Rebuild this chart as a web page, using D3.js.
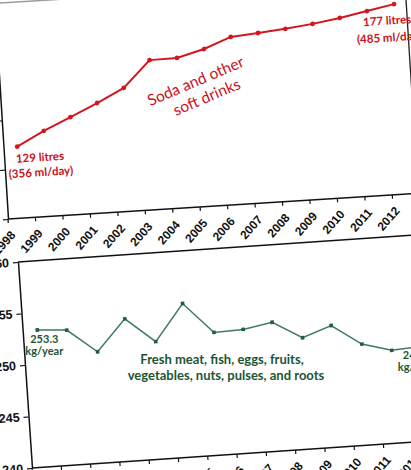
<!DOCTYPE html>
<html>
<head>
<meta charset="utf-8">
<script src="https://cdnjs.cloudflare.com/ajax/libs/d3/7.8.5/d3.min.js"></script>
<style>
  body { margin: 0; background: #fff; }
  svg { display: block; }
</style>
</head>
<body>
<div id="chart"></div>
<script>
//GLOBALS
width = 411;
height = 470;

// soda and other soft drinks, litres per person per year
var sodaYears = ["1998","1999","2000","2001","2002","2003","2004","2005","2006","2007","2008","2009","2010","2011","2012"];
var sodaLitres = [129, 134.7, 139.6, 144.6, 150.0, 160.6, 160.8, 163.7, 167.9, 168.8, 169.8, 171.1, 172.8, 174.9, 177];
var sodaTicks = [100, 120, 140, 160, 180];

// fresh meat, fish, eggs, fruits, vegetables, nuts, pulses, roots, kg per person per year
var freshYears = ["1999","2000","2001","2002","2003","2004","2005","2006","2007","2008","2009","2010","2011","2012"];
var freshKg = [253.3, 253.1, 250.8, 253.8, 251.4, 254.9, 251.9, 252.0, 252.5, 250.8, 251.8, 249.8, 249.0, 249.2];
var freshTicks = [240, 245, 250, 255, 260];

red = "#d4161f";
redText = "#c8121c";
green = "#3f7a5e";
greenText = "#1b5634";
axisFont = "'Liberation Sans', Arial, sans-serif";
noteFont = "Lato, 'Open Sans', sans-serif";

function xAxis(g, x, n) {
  // ticks sit on category boundaries, labels hang off the left boundary
  var bounds = d3.range(n + 1).map(function(i) { return x.range()[0] + i * x.step(); });
  g.append("line")
    .attr("x1", 0).attr("x2", x.range()[1])
    .attr("y1", 0).attr("y2", 0)
    .attr("stroke", "#111").attr("stroke-width", 1.5);
  g.selectAll(".xt")
    .data(bounds.slice(0, n))
    .join("line")
    .attr("x1", function(d) { return d; }).attr("x2", function(d) { return d; })
    .attr("y1", 0).attr("y2", 4)
    .attr("stroke", "#111").attr("stroke-width", 1.2);
  g.selectAll(".xl")
    .data(x.domain())
    .join("text")
    .attr("transform", function(d) { return "translate(" + (x(d) + 7) + ",17) rotate(-45)"; })
    .attr("text-anchor", "end")
    .attr("font-family", axisFont)
    .attr("font-weight", "bold")
    .attr("font-size", "12px")
    .attr("fill", "#111")
    .text(function(d) { return d; });
}

function yAxis(g, y, ticks) {
  var ax = g.append("g")
    .call(d3.axisLeft(y).tickValues(ticks).tickSize(5).tickSizeOuter(0).tickPadding(4));
  ax.select(".domain").attr("stroke", "#111").attr("stroke-width", 1.5);
  ax.selectAll(".tick line").attr("stroke", "#111").attr("stroke-width", 1.2);
  ax.selectAll(".tick text")
    .attr("font-family", axisFont)
    .attr("font-weight", "bold")
    .attr("font-size", "12.5px")
    .attr("fill", "#111");
}

function start() {
  svg = d3.select("#chart")
    .append("svg")
    .attr("width", width)
    .attr("height", height);

  svg.append("rect").attr("width", width).attr("height", height).attr("fill", "#fff");

  ////////// soda panel (scan is tilted) //////////
  top1 = svg.append("g").attr("transform", "translate(8,219) rotate(-3.6)");

  x1 = d3.scaleBand().domain(sodaYears).range([0, 412.5]);
  y1 = d3.scaleLinear().domain([100, 200]).range([0, -247]);

  // frame
  top1.append("line")
    .attr("x1", -20).attr("x2", 412.5)
    .attr("y1", -216).attr("y2", -216)
    .attr("stroke", "#9a9a9a").attr("stroke-width", 1.5);
  top1.append("line")
    .attr("x1", 411).attr("x2", 411)
    .attr("y1", 0).attr("y2", -216)
    .attr("stroke", "#222").attr("stroke-width", 1.3);

  yAxis(top1, y1, sodaTicks);
  xAxis(top1, x1, sodaYears.length);

  soda = sodaYears.map(function(d, i) { return {year: d, v: sodaLitres[i]}; });
  cx1 = function(d) { return x1(d.year) + x1.bandwidth() / 2; };

  top1.append("path")
    .datum(soda)
    .attr("fill", "none")
    .attr("stroke", red)
    .attr("stroke-width", 2)
    .attr("d", d3.line().x(cx1).y(function(d) { return y1(d.v); }));

  top1.selectAll(".dot")
    .data(soda)
    .join("circle")
    .attr("cx", cx1)
    .attr("cy", function(d) { return y1(d.v); })
    .attr("r", 2.4)
    .attr("fill", red);

  first = soda[0];
  last = soda[soda.length - 1];
  sodaNotes = [
    {d: first, dx: 22, dy: 16, t: "129 litres"},
    {d: first, dx: 22, dy: 31, t: "(356 ml/day)"},
    {d: last, dx: -8, dy: 20, t: "177 litres"},
    {d: last, dx: -7, dy: 37, t: "(485 ml/day)"}
  ];
  top1.selectAll(".note")
    .data(sodaNotes)
    .join("text")
    .attr("x", function(n) { return cx1(n.d) + n.dx; })
    .attr("y", function(n) { return y1(n.d.v) + n.dy; })
    .attr("text-anchor", "middle")
    .attr("font-family", noteFont)
    .attr("font-weight", "bold")
    .attr("font-size", "11.5px")
    .attr("fill", redText)
    .text(function(n) { return n.t; });

  sodaTitle = top1.append("g")
    .attr("transform", "translate(199,-117) rotate(-19.5)")
    .attr("font-family", noteFont)
    .attr("font-size", "15.5px")
    .attr("fill", redText)
    .attr("text-anchor", "middle");
  sodaTitle.append("text").attr("x", 0).attr("y", -4).text("Soda and other");
  sodaTitle.append("text").attr("x", 4).attr("y", 15).text("soft drinks");

  ////////// fresh food panel //////////
  bot = svg.append("g").attr("transform", "translate(32,468) rotate(-3.9)");

  x2 = d3.scaleBand().domain(freshYears).range([0, 410.9]);
  y2 = d3.scaleLinear().domain([240, 260]).range([0, -206.5]);

  bot.append("line")
    .attr("x1", 0).attr("x2", 430)
    .attr("y1", y2(260)).attr("y2", y2(260))
    .attr("stroke", "#111").attr("stroke-width", 1.5);

  yAxis(bot, y2, freshTicks);
  xAxis(bot, x2, freshYears.length);

  fresh = freshYears.map(function(d, i) { return {year: d, v: freshKg[i]}; });
  cx2 = function(d) { return x2(d.year) + x2.bandwidth() / 2; };

  bot.append("path")
    .datum(fresh)
    .attr("fill", "none")
    .attr("stroke", green)
    .attr("stroke-width", 1.5)
    .attr("d", d3.line().x(cx2).y(function(d) { return y2(d.v); }));

  bot.selectAll(".dot")
    .data(fresh)
    .join("rect")
    .attr("x", function(d) { return cx2(d) - 1.8; })
    .attr("y", function(d) { return y2(d.v) - 1.8; })
    .attr("width", 3.6)
    .attr("height", 3.6)
    .attr("fill", "#235c40");

  // end labels are upright on the page, so undo the tilt
  f0 = fresh[0];
  fN = fresh[fresh.length - 1];
  freshNotes = [
    {d: f0, dx: 7, dy: 13, t: "253.3"},
    {d: f0, dx: 7, dy: 25, t: "kg/year"},
    {d: fN, dx: -4, dy: 13, t: "249.2"},
    {d: fN, dx: -4, dy: 25, t: "kg/year"}
  ];
  bot.selectAll(".note")
    .data(freshNotes)
    .join("text")
    .attr("transform", function(n) {
      var px = cx2(n.d), py = y2(n.d.v);
      return "translate(" + px + "," + py + ") rotate(3.9) translate(" + n.dx + "," + n.dy + ")";
    })
    .attr("text-anchor", "middle")
    .attr("font-family", noteFont)
    .attr("font-weight", "bold")
    .attr("font-size", "11px")
    .attr("fill", greenText)
    .text(function(n) { return n.t; });

  freshTitle = svg.append("g")
    .attr("font-family", noteFont)
    .attr("font-weight", "bold")
    .attr("font-size", "13px")
    .attr("fill", greenText)
    .attr("text-anchor", "middle");
  freshTitle.append("text").attr("x", 222).attr("y", 364).text("Fresh meat, fish, eggs, fruits,");
  freshTitle.append("text").attr("x", 226).attr("y", 380).text("vegetables, nuts, pulses, and roots");
}

function init() {
  start();
}

window.onload = init;
</script>
</body>
</html>
